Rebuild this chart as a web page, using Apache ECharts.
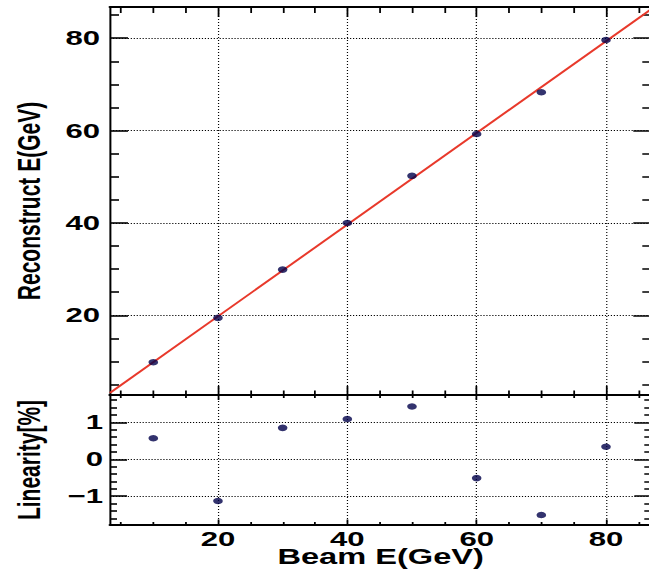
<!DOCTYPE html>
<html><head><meta charset="utf-8">
<script src="https://cdn.jsdelivr.net/npm/echarts@6/dist/echarts.min.js"></script>
<style>
html,body{margin:0;padding:0;background:#fff;overflow:hidden;width:649px;height:570px;}
#wrap{position:absolute;left:0;top:0;width:446px;height:570px;transform-origin:0 0;transform:scaleX(1.481735);}
</style></head><body><div id="wrap"></div>
<script>
// ---- data ----
const beamE = [10, 20, 30, 40, 50, 60, 70, 80];
const recoE = [9.85, 19.45, 29.9, 40.0, 50.2, 59.25, 68.3, 79.6];
const linearity = [0.57, -1.13, 0.85, 1.09, 1.43, -0.51, -1.51, 0.34];
const fitX = [3.3, 87];
const fitY = [3.2, 86.3];
// ---- ticks ----
const xMajorTicks = [20, 40, 60, 80];
const xMinorTicks = [5, 10, 15, 25, 30, 35, 45, 50, 55, 65, 70, 75, 85];
const yTopMajorTicks = [20, 40, 60, 80];
const yTopMinorTicks = [5, 10, 15, 25, 30, 35, 45, 50, 55, 65, 70, 75, 85];
const yBotMajorTicks = [-1, 0, 1];
const yBotMinorTicks = [-1.6, -1.4, -1.2, -0.8, -0.6, -0.4, -0.2, 0.2, 0.4, 0.6, 0.8, 1.2, 1.4, 1.6];
const xTitle = 'Beam E(GeV)';
const yTopTitle = 'Reconstruct E(GeV)';
const yBotTitle = 'Linearity[%]';

const S = 649 / 438;
const FONT = '"Liberation Sans", Arial, Helvetica, sans-serif';
const XMIN = 3.3, XMAX = 87, YTMIN = 2.75, YTMAX = 86.75, YBMIN = -1.78, YBMAX = 1.74;

function ax(gridIndex, position, min, max, ticks, tickLen, tickW, extra) {
  const o = {
    type: 'value', gridIndex, position, min, max,
    axisLine: { show: false, onZero: false },
    axisLabel: { show: false },
    splitLine: { show: false },
    axisTick: { show: true, inside: true, length: tickLen, customValues: ticks,
      lineStyle: { color: '#000', width: tickW } }
  };
  return Object.assign(o, extra || {});
}
const lineX = { show: true, onZero: false, lineStyle: { color: '#000', width: 2 } };
const lineY = { show: true, onZero: false, lineStyle: { color: '#000', width: 2 / S } };
const splitX = { show: true, lineStyle: { color: '#000', width: 0.8, type: [1, 2] } };
const splitY = { show: true, lineStyle: { color: '#000', width: 1, type: [0.8, 1.2] } };
const labelStyle = { fontFamily: FONT, fontWeight: 'bold', fontSize: 21, color: '#000' };
const nameStyle = { fontFamily: FONT, fontWeight: 'bold', fontSize: 21, color: '#000' };
const fmt = v => String(v).replace('-', '\u2212');

const xAxis = [
  ax(0, 'bottom', XMIN, XMAX, xMajorTicks, 9, 1.2, { axisLine: lineX, splitLine: splitX }),
  ax(0, 'bottom', XMIN, XMAX, xMinorTicks, 4.5, 1.2),
  ax(0, 'top', XMIN, XMAX, xMajorTicks, 10, 1.2, { axisLine: lineX }),
  ax(0, 'top', XMIN, XMAX, xMinorTicks, 6, 1.2),
  ax(1, 'bottom', XMIN, XMAX, xMajorTicks, 5.5, 1.2, {
    axisLine: lineX, splitLine: splitX,
    axisLabel: Object.assign({ show: true, margin: 3, customValues: xMajorTicks, formatter: fmt }, labelStyle),
    name: xTitle, nameLocation: 'middle', nameGap: 20, nameMoveOverlap: false,
    nameTextStyle: Object.assign({}, nameStyle, { fontSize: 22 })
  }),
  ax(1, 'bottom', XMIN, XMAX, xMinorTicks, 3, 1.2),
  ax(1, 'top', XMIN, XMAX, xMajorTicks, 5, 1.2, { axisLine: lineX }),
  ax(1, 'top', XMIN, XMAX, xMinorTicks, 3, 1.2)
];
const yAxis = [
  ax(0, 'left', YTMIN, YTMAX, yTopMajorTicks, 18 / S, 1.6, {
    axisLine: lineY, splitLine: splitY,
    axisLabel: Object.assign({ show: true, margin: 10 / S, customValues: yTopMajorTicks, formatter: fmt }, labelStyle),
    name: yTopTitle, nameLocation: 'middle', nameGap: 44, nameMoveOverlap: false, nameTextStyle: nameStyle
  }),
  ax(0, 'left', YTMIN, YTMAX, yTopMinorTicks, 9 / S, 1.6),
  ax(0, 'right', YTMIN, YTMAX, yTopMajorTicks, 18 / S, 1.6, { axisLine: lineY }),
  ax(0, 'right', YTMIN, YTMAX, yTopMinorTicks, 9 / S, 1.6),
  ax(1, 'left', YBMIN, YBMAX, yBotMajorTicks, 17 / S, 1.6, {
    axisLine: lineY, splitLine: splitY,
    axisLabel: Object.assign({ show: true, margin: 7 / S, customValues: yBotMajorTicks, formatter: fmt }, labelStyle),
    name: yBotTitle, nameLocation: 'middle', nameGap: 44, nameMoveOverlap: false, nameTextStyle: nameStyle
  }),
  ax(1, 'left', YBMIN, YBMAX, yBotMinorTicks, 7 / S, 1.6),
  ax(1, 'right', YBMIN, YBMAX, yBotMajorTicks, 17 / S, 1.6, { axisLine: lineY }),
  ax(1, 'right', YBMIN, YBMAX, yBotMinorTicks, 7 / S, 1.6)
];

const chart = echarts.init(document.getElementById('wrap'), null, { renderer: 'svg', width: 446, height: 570 });
chart.setOption({
  animation: false,
  backgroundColor: '#fff',
  grid: [
    { left: 110 / S, top: 7, width: 541.3 / S, height: 388, containLabel: false, outerBoundsMode: 'none' },
    { left: 110 / S, top: 395, width: 541.3 / S, height: 130, containLabel: false, outerBoundsMode: 'none' }
  ],
  xAxis, yAxis,
  series: [
    { type: 'line', xAxisIndex: 0, yAxisIndex: 0, data: fitX.map((x, i) => [x, fitY[i]]),
      symbol: 'none', lineStyle: { color: '#e8392b', width: 1.7 }, z: 2, silent: true },
    { type: 'scatter', xAxisIndex: 0, yAxisIndex: 0, data: beamE.map((x, i) => [x, recoE[i]]),
      symbol: 'circle', symbolSize: 6.5, itemStyle: { color: '#00004a' }, z: 3 },
    { type: 'scatter', xAxisIndex: 4, yAxisIndex: 4, data: beamE.map((x, i) => [x, linearity[i]]),
      symbol: 'circle', symbolSize: 6.5, itemStyle: { color: '#00004a' }, z: 3 }
  ]
});
</script></body></html>
